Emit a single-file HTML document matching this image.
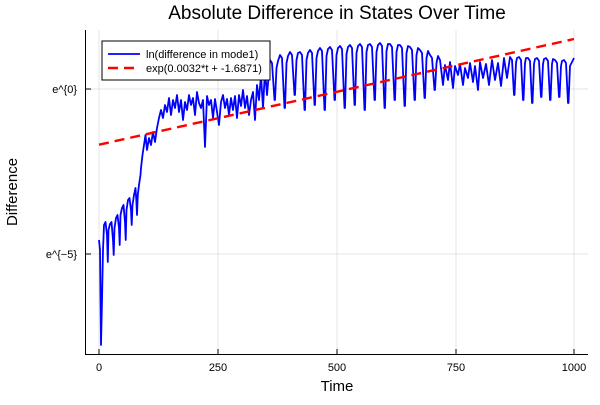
<!DOCTYPE html>
<html><head><meta charset="utf-8"><style>
body{margin:0;background:#fff;font-family:"Liberation Sans",sans-serif}
svg text{font-family:"Liberation Sans",sans-serif}
</style></head><body>
<svg width="600" height="400" xmlns="http://www.w3.org/2000/svg">
<rect width="600" height="400" fill="#fff"/>
<g stroke="#000" stroke-opacity="0.1" stroke-width="1">
<line x1="99" y1="30" x2="99" y2="354"/><line x1="218" y1="30" x2="218" y2="354"/>
<line x1="337" y1="30" x2="337" y2="354"/><line x1="456" y1="30" x2="456" y2="354"/>
<line x1="574" y1="30" x2="574" y2="354"/>
<line x1="86" y1="89" x2="588" y2="89"/><line x1="86" y1="254" x2="588" y2="254"/>
</g>
<g stroke="#000" stroke-width="1">
<line x1="85.5" y1="30" x2="85.5" y2="354.5"/><line x1="85" y1="354.5" x2="588" y2="354.5"/>
<line x1="99" y1="354" x2="99" y2="349"/><line x1="218" y1="354" x2="218" y2="349"/>
<line x1="337" y1="354" x2="337" y2="349"/><line x1="456" y1="354" x2="456" y2="349"/>
<line x1="574" y1="354" x2="574" y2="349"/>
<line x1="86" y1="89" x2="91" y2="89"/><line x1="86" y1="254" x2="91" y2="254"/>
</g>
<g font-size="11" fill="#000" text-anchor="middle">
<text x="99" y="371">0</text><text x="218" y="371">250</text><text x="337" y="371">500</text>
<text x="456" y="371">750</text><text x="574" y="371">1000</text>
</g>
<g font-size="11" fill="#000" text-anchor="end">
<text x="77" y="93">e^{0}</text><text x="77" y="258">e^{−5}</text>
</g>
<text x="337" y="391" font-size="15" text-anchor="middle">Time</text>
<text x="17" y="192" font-size="15" text-anchor="middle" transform="rotate(-90 17 192)">Difference</text>
<text x="337" y="19" font-size="19" text-anchor="middle">Absolute Difference in States Over Time</text>
<polyline fill="none" stroke="#0000ff" stroke-width="1.8" stroke-linejoin="round" points="
99,240 100,250 101,345 102,300 103,250 104,225 105.5,222 107,235 107.8,262 108.5,230 110,224 111.5,222 113,240 113.7,255 114.5,228 116,218 117.5,215 119,228 119.7,245 120.5,215 122,208 123.5,205 125,222 125.7,240 126.5,210 128,200 129.5,198 131,210 131.7,225 132.5,205 134,195 135.5,188 136.3,200 137,215 137.8,195 139,185 140.5,175 141,168 142.5,155 144,145 145.5,135
147,150 149,138 151,145 153,132 155,142 157,128 159,118 161,110 163,118 165,105 167,112 169,98 171,115 173,100 175,108 177,95 179,112 181,100 183,120 185,102 187,110 189,95 191,105 193,98 195,115 197,92 199,103 201,108 203,100 205,147 207,96 209,105 211,100 213,118 215,99 217,112 219,125 221,102 223,95 225,108 227,99 229,115 231,98 233,110 235,96 237,118 239,95 241,106 243,90 245,108 247,96 249,115 251,100 253,92 255,120 257,85 259,100 261,75 263,108 265,70 267,95
270,60 272,63 274.5,100 275,100 276.5,68 278,61
280,55 282,58 284.5,108 285,108 286.5,63 288,56
290,52 292,55 294.5,95 295,95 296.5,60 298,53
300,52 302,55 304.5,110 305,110 306.5,60 308,53
310,50 312,53 314.5,105 315,105 316.5,58 318,51
320,48 322,51 324.5,110 325,110 326.5,56 328,49
330,47 332,50 334.5,100 335,100 336.5,55 338,48
340,46 342,49 344.5,108 345,108 346.5,54 348,47
350,45 352,48 354.5,105 355,105 356.5,53 358,46
360,44 362,47 364.5,110 365,110 366.5,52 368,45
370,44 372,47 374.5,100 375,100 376.5,52 378,45
380,43 382,46 384.5,108 385,108 386.5,51 388,44
390,44 392,47 394.5,100 395,100 396.5,52 398,45
400,45 402,48 404.5,106 405,106 406.5,53 408,46
410,47 412,50 414.5,100 415,100 416.5,55 418,48
420,50 422,53 424.5,98 425,98 426.5,58 428,51
430,55 432,58 434.5,90 435,90 436.5,63 438,56
440,60 443,85 445,65 448,80 450,62 453,88 455,66 458,75 460,64 463,85 465,68 468,78 470,63 473,82 475,66 478,90 480,62 483,78 486,64 489,85 492,60 495,80 498,63 501,86 504,58 507,78
510,57 512,60 514,95 514.5,95 516,63 517,58
519,57 521,60 523,100 523.5,100 525,63 526,58
528,58 530,61 532,103 532.5,103 534,64 535,59
537,58 539,61 541,97 541.5,97 543,64 544,59
546,58 548,61 550,100 550.5,100 552,64 553,59
555,60 557,63 559,97 559.5,97 561,66 562,61
564,60 566,63 568,103 568.5,103 570,66 572,62 574,58"/>
<line x1="99" y1="144.7" x2="574" y2="39" stroke="#ff0000" stroke-width="2.4" stroke-dasharray="10,6"/>
<rect x="102" y="41" width="168" height="39" fill="#fff" stroke="#000" stroke-width="1"/>
<line x1="108" y1="54" x2="140" y2="54" stroke="#0000ff" stroke-width="1.8"/>
<line x1="108" y1="68" x2="140" y2="68" stroke="#ff0000" stroke-width="2.4" stroke-dasharray="10,6"/>
<text x="146" y="58" font-size="11">ln(difference in mode1)</text>
<text x="146" y="72" font-size="11">exp(0.0032*t + -1.6871)</text>
</svg>
</body></html>
